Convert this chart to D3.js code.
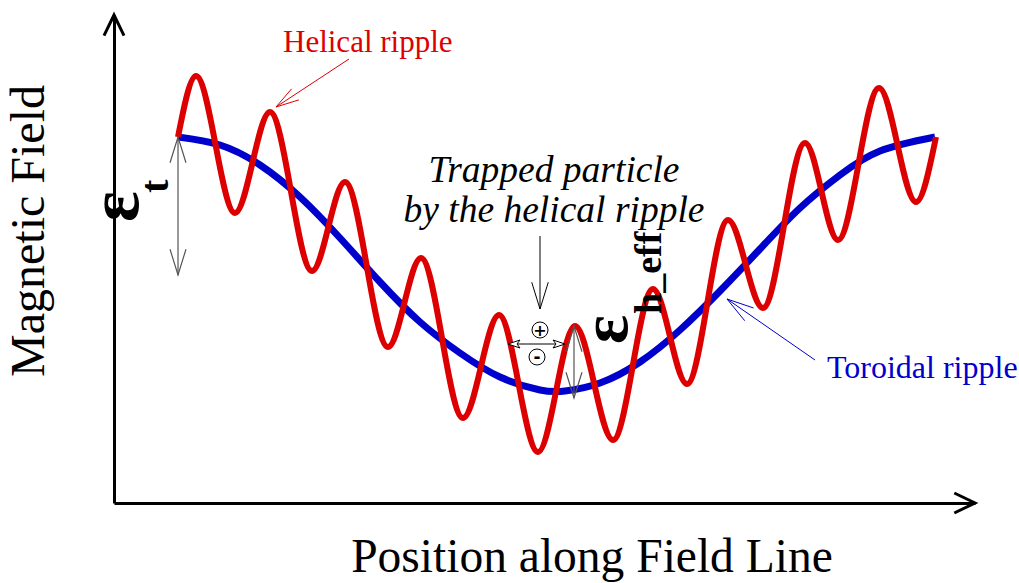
<!DOCTYPE html>
<html><head><meta charset="utf-8">
<script src="https://cdn.jsdelivr.net/npm/d3@7"></script>
<style>body{margin:0;background:#fff}svg{display:block}</style>
</head><body><svg id="c" width="1019" height="583"></svg>
<script>
// Data (position along field line, magnetic field), arbitrary units
const toroidalPos   = [64, 106, 146, 186, 226, 266, 306, 346, 386, 426, 451, 486, 526, 566, 606, 646, 686, 726, 766, 821];
const toroidalField = [366, 358, 338, 306, 265, 221, 181, 150, 126, 113, 112, 120, 141, 173, 212, 254, 295, 328, 352, 366];

const helicalPos   = [64, 82, 121, 156, 198, 231, 274, 307, 349, 385, 424, 461, 499, 539, 573, 614, 649, 691, 724, 765, 802, 822];
const helicalField = [366, 427, 290, 391, 232, 321, 156, 245, 85, 188, 51, 177, 63, 214, 119, 283, 195, 360, 263, 415, 301, 366];

const axisLabels = {x: "Position along Field Line", y: "Magnetic Field"};
const seriesLabels = ["Helical ripple", "Toroidal ripple"];
const trapLabel = ["Trapped particle", "by the helical ripple"];

const svg = d3.select("#c");
const x = d3.scaleLinear().domain([0, 861]).range([114, 975]);
const y = d3.scaleLinear().domain([0, 488]).range([503, 15]);

const RED = "#dd0000", BLUE = "#0000cc";
const serif = "'Liberation Serif','Times New Roman',serif";

// axes
const ax = svg.append("g").attr("transform", `translate(0,${y(0)})`)
  .call(d3.axisBottom(x).tickValues([]).tickSizeOuter(0));
ax.select(".domain").attr("stroke", "#000").attr("stroke-width", 3);
const ay = svg.append("g").attr("transform", `translate(${x(0)},0)`)
  .call(d3.axisLeft(y).tickValues([]).tickSizeOuter(0));
ay.select(".domain").attr("stroke", "#000").attr("stroke-width", 3);

function vhead(g, tx, ty, ang, len, half, color, w) {
  const a1 = ang + Math.PI - half, a2 = ang + Math.PI + half;
  g.append("path")
    .attr("d", `M${tx + len*Math.cos(a1)},${ty + len*Math.sin(a1)}L${tx},${ty}L${tx + len*Math.cos(a2)},${ty + len*Math.sin(a2)}`)
    .attr("fill", "none").attr("stroke", color).attr("stroke-width", w);
}
function arrow(g, x1, y1, x2, y2, color, w, len, half, both) {
  g.append("line").attr("x1", x1).attr("y1", y1).attr("x2", x2).attr("y2", y2)
    .attr("stroke", color).attr("stroke-width", w);
  const ang = Math.atan2(y2 - y1, x2 - x1);
  vhead(g, x2, y2, ang, len, half, color, w);
  if (both) vhead(g, x1, y1, ang + Math.PI, len, half, color, w);
}

const ann = svg.append("g");
vhead(ann, x(0), y(488), -Math.PI/2, 23, 0.45, "#000", 3);
vhead(ann, x(861), y(0), 0, 23, 0.45, "#000", 3);

// curves
const lineB = d3.line().x(d => x(d[0])).y(d => y(d[1])).curve(d3.curveNatural);
const lineR = d3.line().x(d => x(d[0])).y(d => y(d[1])).curve(d3.curveMonotoneX);
svg.append("path").datum(d3.zip(toroidalPos, toroidalField))
  .attr("d", lineB).attr("fill", "none").attr("stroke", BLUE).attr("stroke-width", 7);
svg.append("path").datum(d3.zip(helicalPos, helicalField))
  .attr("d", lineR).attr("fill", "none").attr("stroke", RED).attr("stroke-width", 6)
  .attr("stroke-linejoin", "round");

const fg = svg.append("g");
arrow(fg, x(64), y(366), x(64), y(228), "#555", 1.2, 27, 0.3, true);
arrow(fg, x(460), y(177), x(460), y(105), "#555", 1.2, 27, 0.3, true);
arrow(fg, x(426), y(267), x(426), y(194), "#000", 1, 28, 0.3, false);

(function() {
  const x1 = x(394), x2 = x(451), yy = y(159);
  fg.append("line").attr("x1", x1 + 10).attr("x2", x2 - 10).attr("y1", yy).attr("y2", yy)
    .attr("stroke", "#000").attr("stroke-width", 1);
  fg.append("path").attr("d", `M${x1},${yy}L${x1+12},${yy-4}L${x1+9},${yy}L${x1+12},${yy+4}Z`)
    .attr("fill", "#fff").attr("stroke", "#000").attr("stroke-width", 1);
  fg.append("path").attr("d", `M${x2},${yy}L${x2-12},${yy-4}L${x2-9},${yy}L${x2-12},${yy+4}Z`)
    .attr("fill", "#fff").attr("stroke", "#000").attr("stroke-width", 1);
})();
[[426, 173, "+"], [423, 146, "-"]].forEach(([px, py, s]) => {
  fg.append("circle").attr("cx", x(px)).attr("cy", y(py)).attr("r", 8)
    .attr("fill", "#fff").attr("stroke", "#000").attr("stroke-width", 1);
  fg.append("text").attr("x", x(px)).attr("y", y(py) + 5.5).attr("text-anchor", "middle")
    .attr("font-family", "'DejaVu Sans',sans-serif").attr("font-size", s === "+" ? 16 : 17)
    .attr("font-weight", "bold").text(s);
});

arrow(fg, x(235), y(444), x(162), y(396), RED, 1, 24, 0.28, false);
arrow(fg, x(701), y(143), x(613), y(204), BLUE, 1, 28, 0.28, false);

fg.append("text").attr("x", 283).attr("y", 52).attr("font-family", serif)
  .attr("font-size", 31).attr("fill", RED).text(seriesLabels[0]);
fg.append("text").attr("x", 827).attr("y", 378).attr("font-family", serif)
  .attr("font-size", 32).attr("fill", BLUE).text(seriesLabels[1]);

trapLabel.forEach((t, i) => {
  fg.append("text").attr("x", 554).attr("y", 182 + i * 40).attr("text-anchor", "middle")
    .attr("font-family", serif).attr("font-style", "italic").attr("font-size", 37.5).text(t);
});

function rot(tx, ty, txt, size, weight) {
  fg.append("text").attr("transform", `translate(${tx},${ty}) rotate(-90)`)
    .attr("font-family", serif).attr("font-size", size).attr("font-weight", weight || "normal")
    .text(txt);
}
rot(138, 222, "ε", 72, "bold");
rot(168, 193, "t", 40, "bold");
rot(627, 344, "ε", 68, "bold");
rot(661, 314, "h_eff", 38, "bold");

svg.append("text").attr("transform", `translate(44,231) rotate(-90)`)
  .attr("text-anchor", "middle").attr("font-family", serif).attr("font-size", 48)
  .text(axisLabels.y);
svg.append("text").attr("x", 592).attr("y", 572).attr("text-anchor", "middle")
  .attr("font-family", serif).attr("font-size", 47.5).text(axisLabels.x);
</script></body></html>
